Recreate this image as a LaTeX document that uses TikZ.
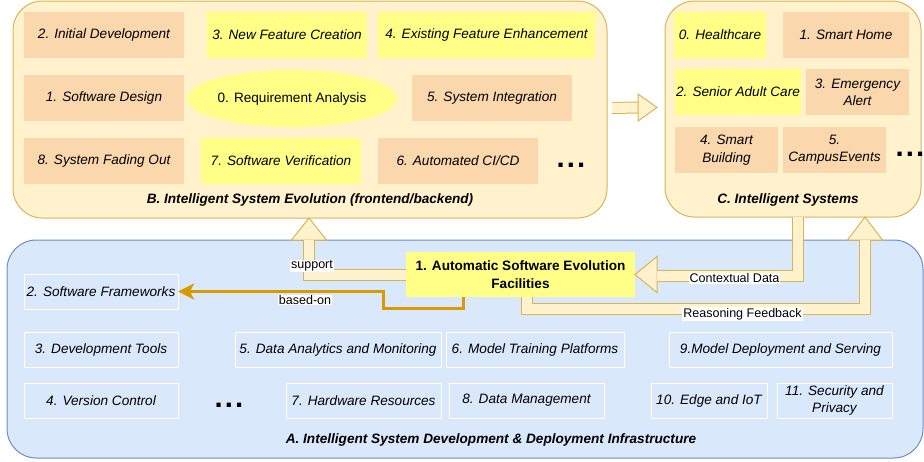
\documentclass[tikz,border=0pt]{standalone}
\usepackage{fontspec}
\setmainfont{Liberation Sans}
\usetikzlibrary{calc,arrows.meta,shapes.geometric}
\definecolor{panelfill}{HTML}{FFF2CC}
\definecolor{panelline}{HTML}{D6B656}
\definecolor{orangebox}{HTML}{FAD7AC}
\definecolor{yellowbox}{HTML}{FFFF88}
\definecolor{infrafill}{HTML}{DAE8FC}
\definecolor{infraline}{HTML}{6C8EBF}
\definecolor{basedcol}{HTML}{D79B00}
\newcommand{\itemfont}{\fontsize{10.2}{13}\selectfont}
\newcommand{\moredots}{.\kern1.6pt.\kern1.6pt.}

\begin{document}
\begin{tikzpicture}[x=0.75pt,y=-0.75pt,
  every node/.style={inner sep=0pt,outer sep=0pt,align=center,font=\itemfont},
  sz/.style 2 args={minimum width=#1*0.75pt,minimum height=#2*0.75pt},
  panel/.style={draw=panelline,fill=panelfill,line width=0.75pt,rounded corners=22pt},
  infra/.style={draw=infraline,fill=infrafill,line width=0.75pt,rounded corners=22pt},
  obox/.style={fill=orangebox,font=\itemfont\itshape},
  ybox/.style={fill=yellowbox,font=\itemfont\itshape},
  tool/.style={draw=white,line width=0.75pt,font=\itemfont\itshape},
  ptitle/.style={font=\itemfont\bfseries\itshape},
  dotrow/.style={font=\fontsize{22}{22}\selectfont\bfseries},
  shaft/.style={draw=panelline,double=panelfill,line width=0.75pt,double distance=7.5pt},
  bhead/.style={draw=panelline,fill=panelfill,line width=0.75pt,line join=miter},
  lbl/.style={fill=white,font=\fontsize{9.4}{11}\selectfont,inner sep=0.6pt},
]
\useasboundingbox (0,0) rectangle (924,461);

% panels
\node[infra,sz={916}{218}] (A) at (465,349) {};
\node[panel,sz={594}{217}] (B) at (310,109.5) {};
\node[panel,sz={256}{216}] (C) at (793,109) {};

% B. evolution
\node[obox,sz={160}{46}] (dev) at (104,35) {2. Initial Development};
\node[ybox,sz={160}{46}] (newf) at (287,35) {3. New Feature Creation};
\node[ybox,sz={217}{46}] (exist) at (486.5,35) {4. Existing Feature Enhancement};
\node[obox,sz={160}{46}] (design) at (104,98) {1. Software Design};
\node[ellipse,fill=yellowbox,sz={194}{57}] (req) at (292,98.5) {0. Requirement Analysis};
\node[obox,sz={160}{46}] (integ) at (492,98) {5. System Integration};
\node[obox,sz={160}{46}] (fade) at (104,161) {8. System Fading Out};
\node[ybox,sz={160}{46}] (verif) at (281,161) {7. Software Verification};
\node[obox,sz={160}{46}] (cicd) at (458,161) {6. Automated CI/CD};
\node[dotrow] (dotsB) at (571,165.5) {\moredots};
\node[ptitle] (Btitle) at (310,200) {B. Intelligent System Evolution (frontend/backend)};

% C. systems
\node[ybox,sz={92}{46}] (health) at (720,35) {0. Healthcare};
\node[obox,sz={126}{46}] (home) at (846,35) {1. Smart Home};
\node[ybox,sz={126}{46}] (senior) at (738,92) {2. Senior Adult Care};
\node[obox,sz={103}{46}] (emerg) at (857.5,92) {3. Emergency\\Alert};
\node[obox,sz={103}{46}] (bldg) at (726.5,150) {4. Smart\\Building};
\node[obox,sz={103}{46}] (campus) at (834.5,150) {5.\\CampusEvents};
\node[dotrow] (dotsC) at (910,154.5) {\moredots};
\node[ptitle] (Ctitle) at (788,200) {C. Intelligent Systems};

% A. infrastructure
\node[tool,sz={154}{35}] (frame) at (101,291.5) {2. Software Frameworks};
\node[tool,sz={154}{35}] (tools) at (101,349.5) {3. Development Tools};
\node[tool,sz={154}{35}] (vcs) at (101,400.5) {4. Version Control};
\node[dotrow] (dotsA) at (229,405.5) {\moredots};
\node[tool,sz={206}{35}] (analytics) at (338,349.5) {5. Data Analytics and Monitoring};
\node[tool,sz={155}{35}] (hw) at (363.5,400.5) {7. Hardware Resources};
\node[tool,sz={178}{35}] (train) at (535,349.5) {6. Model Training Platforms};
\node[tool,sz={155}{35}] (datam) at (526.5,400.5) {8. Data Management};
\node[tool,sz={223}{35}] (deploy) at (780.5,349.5) {9.Model Deployment and Serving};
\node[tool,sz={116}{35}] (edge) at (709,400.5) {10. Edge and IoT};
\node[tool,sz={115}{35}] (sec) at (834.5,400.5) {11. Security and\\Privacy};
\node[ptitle] (Atitle) at (491,440) {A. Intelligent System Development \& Deployment Infrastructure};

\node[fill=yellowbox,sz={229}{45},font=\itemfont\bfseries] (fac) at (520.5,274.5)
  {1. Automatic Software Evolution\\Facilities};

% B -> C
\draw[shaft] ($(B.east)+(5,-1.5)$) -- ($(C.west)+(-26.5,-1.5)$);
\draw[bhead] ($(C.west)+(-8,-1.5)$) -- ++(-19,-13.5) -- ++(0,27) -- cycle;

% support
\coordinate (sup) at ($(B.south)+(-1,0)$);
\draw[bhead] (sup) -- ++(-17.5,22) -- ++(35,0) -- cycle;
\draw[shaft] (fac.west) -| ($(sup)+(0,21.5)$);

% contextual data
\coordinate (ctx) at ($(C.south)+(4.5,0)$);
\draw[bhead] (fac.east) -- ++(22,-18) -- ++(0,36) -- cycle;
\draw[shaft] (ctx) |- ($(fac.east)+(21.5,1)$);

% reasoning feedback
\coordinate (rsn) at ($(C.south)+(72,0)$);
\draw[bhead] (rsn) -- ++(-17.5,23) -- ++(35,0) -- cycle;
\draw[shaft] ($(fac.south)+(6.5,0)$) -- ++(0,12) -| ($(rsn)+(0,22.5)$);

% based-on
\draw[basedcol,line width=2.25pt,line join=miter,-{Stealth[length=12pt,width=12pt,inset=3pt]}]
  ($(fac.south)+(-57.5,0)$) -- ++(0,11) -| ($(frame.east)+(205,0)$) -- (frame.east);

\node[lbl] (supl) at (312,266) {support};
\node[lbl] (basedl) at (305,300) {based-on};
\node[lbl] (ctxl) at (734.5,278.5) {Contextual Data};
\node[lbl] (rsnl) at (742.5,314) {Reasoning Feedback};
\end{tikzpicture}
\end{document}
